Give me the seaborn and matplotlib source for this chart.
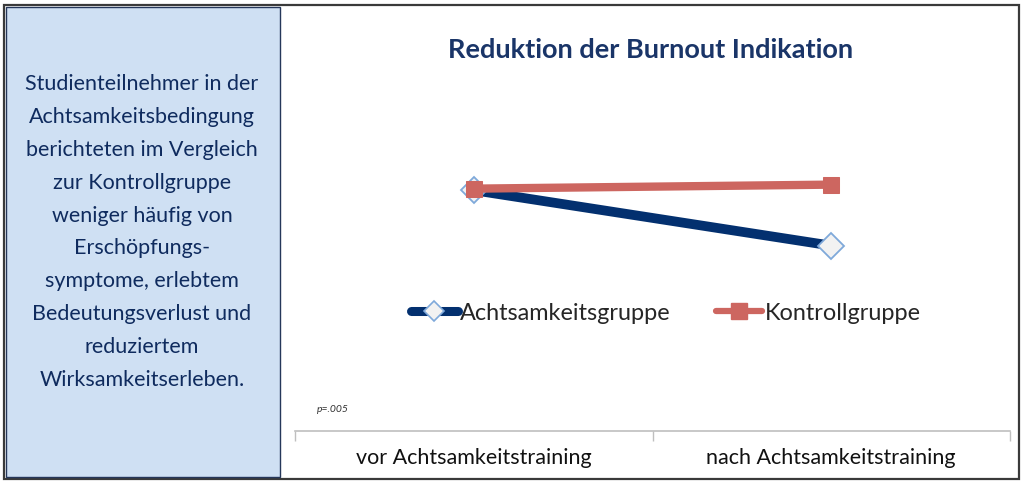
import matplotlib
matplotlib.use("Agg")
import matplotlib.pyplot as plt
from matplotlib.patches import Rectangle
from matplotlib.lines import Line2D
import seaborn as sns
import pandas as pd

categories = ["vor Achtsamkeitstraining", "nach Achtsamkeitstraining"]
achtsamkeit = [3.00, 2.31]
kontrolle = [3.02, 3.07]
series_names = ["Achtsamkeitsgruppe", "Kontrollgruppe"]
title = "Reduktion der Burnout Indikation"
side_text = ("Studienteilnehmer in der\nAchtsamkeitsbedingung\nberichteten im Vergleich\n"
             "zur Kontrollgruppe\nweniger häufig von\nErschöpfungs-\nsymptome, erlebtem\n"
             "Bedeutungsverlust und\nreduziertem\nWirksamkeitserleben.")
p_note = "p=.005"

sns.set_style("white")
plt.rcParams['font.family'] = ['Lato', 'DejaVu Sans']

W, H = 1024, 484
fig = plt.figure(figsize=(W / 100, H / 100), dpi=100)

def fx(px):
    return px / W

def fy(py):
    return 1 - py / H

# frames
fig.patches.append(Rectangle((fx(4), fy(479)), fx(1019) - fx(4), fy(5) - fy(479),
                             transform=fig.transFigure, facecolor="white",
                             edgecolor="#3a3a3a", lw=1.6, zorder=-3))
fig.patches.append(Rectangle((fx(6), fy(477)), fx(280) - fx(6), fy(7) - fy(477),
                             transform=fig.transFigure, facecolor="#cfe0f3",
                             edgecolor="#25375a", lw=1.0, zorder=-2))

fig.text(fx(142), fy(232), side_text, ha="center", va="center", fontsize=15.5,
         color="#0f2b5e", linespacing=1.8)

ax = fig.add_axes([fx(295), fy(431), fx(1010) - fx(295), fy(110) - fy(431)])

df_a = pd.DataFrame({"Zeit": categories, "Wert": achtsamkeit})
df_k = pd.DataFrame({"Zeit": categories, "Wert": kontrolle})

sns.lineplot(data=df_a, x="Zeit", y="Wert", ax=ax, color="#03306f", lw=7,
             marker="D", markersize=13, markerfacecolor="#f2f2f2",
             markeredgecolor="#7fa9da", markeredgewidth=1.3, zorder=3)
sns.lineplot(data=df_k, x="Zeit", y="Wert", ax=ax, color="#cd6660", lw=6,
             marker="s", markersize=11, markerfacecolor="#cd6660",
             markeredgecolor="#cd6660", zorder=4)

ax.set_xlim(-0.5, 1.5)
ax.set_ylim(0, 4)
ax.set_xlabel("")
ax.set_ylabel("")
ax.set_yticks([])
for s in ["top", "right", "left"]:
    ax.spines[s].set_visible(False)
ax.spines["bottom"].set_color("#bfbfbf")
ax.spines["bottom"].set_linewidth(1.2)
ax.set_xticks([0, 1])
ax.set_xticklabels(categories)
ax.set_xticks([-0.5, 0.5, 1.5], minor=True)
ax.tick_params(axis="x", which="major", length=0, pad=12, labelsize=15.5,
               labelcolor="#111111")
ax.tick_params(axis="x", which="minor", length=7, width=1, color="#bfbfbf",
               direction="out", bottom=True)
ax.patch.set_alpha(0)

fig.text(fx(651), fy(50), title, ha="center", va="center", fontsize=19.5,
         fontweight="bold", color="#1a3568")
fig.text(fx(317), fy(410), p_note, ha="left", va="center", fontsize=7.5,
         style="italic", color="#333333")

handles = [
    Line2D([], [], color="#03306f", lw=6.5, marker="D", markersize=10,
           markerfacecolor="#f2f2f2", markeredgecolor="#7fa9da", markeredgewidth=1.2),
    Line2D([], [], color="#cd6660", lw=4.5, marker="s", markersize=11,
           markerfacecolor="#cd6660", markeredgecolor="#cd6660"),
]
fig.legend(handles, series_names, loc="center left",
           bbox_to_anchor=(fx(411), fy(313)), ncol=2, frameon=False,
           fontsize=16.9, handlelength=2.0, handletextpad=0.1, columnspacing=1.9,
           borderaxespad=0, borderpad=0)

fig.savefig("out.png", dpi=100)
